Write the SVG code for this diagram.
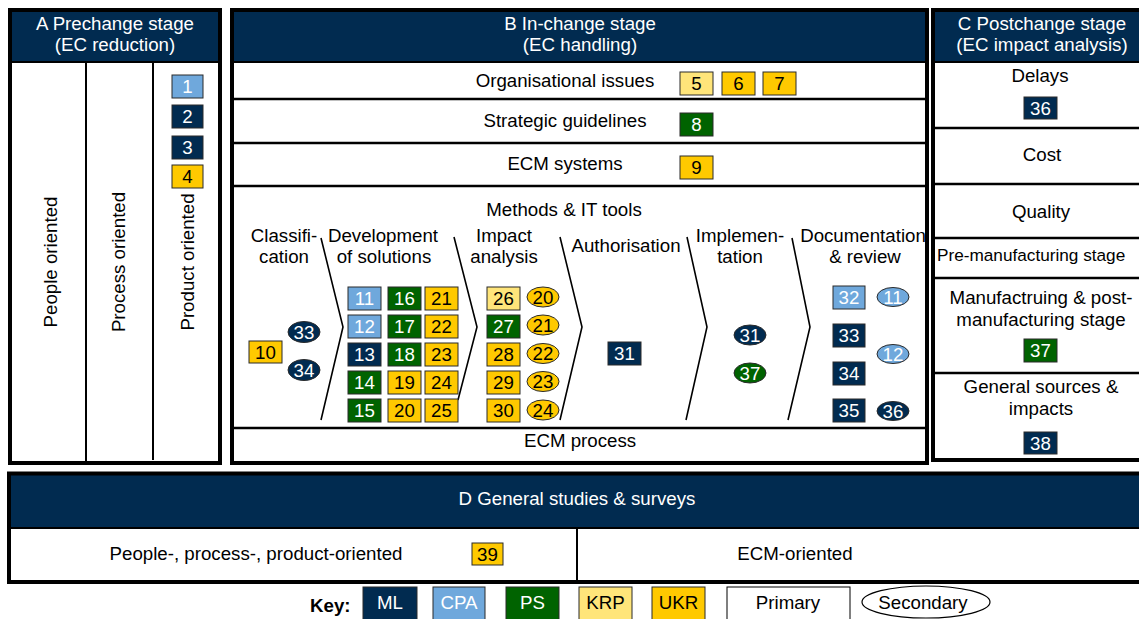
<svg xmlns="http://www.w3.org/2000/svg" width="1139" height="619" viewBox="0 0 1139 619">
<style>
text{font-family:"Liberation Sans",Arial,sans-serif;font-size:18.7px;fill:#000;text-anchor:middle}
.hd{fill:#fff}
.w{fill:#fff}
.frame{fill:none;stroke:#000;stroke-width:4}
.navy{fill:#012b50}
.ln{stroke:#000;stroke-width:2.6;fill:none}
.thin{stroke:#000;stroke-width:2;fill:none}
.chev{stroke:#000;stroke-width:1.6;fill:none;stroke-linejoin:miter}
.b{stroke:#2a2a2a;stroke-width:1}
.ml{fill:#012b50}
.cpa{fill:#6fa8dc}
.ps{fill:#006300}
.krp{fill:#ffe57a}
.ukr{fill:#ffc900}
</style>
<rect width="1139" height="619" fill="#fff"/>

<!-- Panel A -->
<g id="panelA">
<rect class="navy" x="10" y="10" width="210" height="52"/>
<rect class="frame" x="10" y="10" width="210" height="453"/>
<line class="thin" x1="10" y1="62" x2="220" y2="62"/>
<line class="thin" x1="86" y1="62" x2="86" y2="463"/>
<line class="thin" x1="153" y1="62" x2="153" y2="460"/>
<text class="hd" x="115" y="30">A Prechange stage</text>
<text class="hd" x="115" y="51">(EC reduction)</text>
<text transform="translate(56.5,262) rotate(-90)">People oriented</text>
<text transform="translate(124.5,262) rotate(-90)">Process oriented</text>
<text transform="translate(193.5,262) rotate(-90)">Product oriented</text>
</g>
<g id="n1"><rect class="b cpa" x="172" y="75" width="31" height="23"/><text class="w" x="187.5" y="93">1</text></g>
<g id="n2"><rect class="b ml" x="172" y="105" width="31" height="23"/><text class="w" x="187.5" y="123">2</text></g>
<g id="n3"><rect class="b ml" x="172" y="136" width="31" height="23"/><text class="w" x="187.5" y="154">3</text></g>
<g id="n4"><rect class="b ukr" x="172" y="165" width="31" height="23"/><text x="187.5" y="183">4</text></g>

<!-- Panel B -->
<g id="panelB">
<rect class="navy" x="232" y="10" width="695" height="52"/>
<rect class="frame" x="232" y="10" width="695" height="453"/>
<line class="thin" x1="232" y1="62" x2="927" y2="62"/>
<line class="ln" x1="234" y1="99" x2="925" y2="99"/>
<line class="ln" x1="234" y1="143" x2="925" y2="143"/>
<line class="ln" x1="234" y1="186" x2="925" y2="186"/>
<line class="ln" x1="234" y1="428" x2="925" y2="428"/>
<text class="hd" x="580" y="30">B In-change stage</text>
<text class="hd" x="580" y="51">(EC handling)</text>
<text x="565" y="87">Organisational issues</text>
<text x="565" y="127">Strategic guidelines</text>
<text x="565" y="170">ECM systems</text>
<text x="564" y="216">Methods &amp; IT tools</text>
<text x="580" y="447">ECM process</text>
<text x="284" y="242">Classifi-</text>
<text x="284" y="263">cation</text>
<text x="383" y="242">Development</text>
<text x="384" y="263">of solutions</text>
<text x="504" y="242">Impact</text>
<text x="504" y="263">analysis</text>
<text x="626" y="252">Authorisation</text>
<text x="740" y="242">Implemen-</text>
<text x="740" y="263">tation</text>
<text x="863" y="242">Documentation</text>
<text x="865" y="263">&amp; review</text>
</g>

<g id="connectors">
<polyline class="chev" points="321,238 343,327 321,420"/>
<polyline class="chev" points="454,237 477,327 458,400"/>
<polyline class="chev" points="560,237 582,327 560,420"/>
<polyline class="chev" points="687,237 707,327 686,420"/>
<polyline class="chev" points="792,238 810,327 788,420"/>
</g>

<g id="n5"><rect class="b krp" x="680" y="72" width="33" height="23"/><text x="696.5" y="90">5</text></g>
<g id="n6"><rect class="b ukr" x="722" y="72" width="33" height="23"/><text x="738.5" y="90">6</text></g>
<g id="n7"><rect class="b ukr" x="763" y="72" width="33" height="23"/><text x="779.5" y="90">7</text></g>
<g id="n8"><rect class="b ps" x="680" y="113" width="33" height="23"/><text class="w" x="696.5" y="131">8</text></g>
<g id="n9"><rect class="b ukr" x="680" y="156" width="33" height="23"/><text x="696.5" y="174">9</text></g>

<!-- Classification -->
<g id="n10"><rect class="b ukr" x="249" y="341" width="33" height="22"/><text x="265.5" y="358.5">10</text></g>
<g id="e33a"><ellipse class="b ml" cx="304" cy="332" rx="16" ry="10.5"/><text class="w" x="304" y="338.5">33</text></g>
<g id="e34a"><ellipse class="b ml" cx="304" cy="370" rx="16" ry="10.5"/><text class="w" x="304" y="376.5">34</text></g>

<!-- Development -->
<g id="n11"><rect class="b cpa" x="348" y="287" width="33" height="23"/><text class="w" x="364.5" y="305">11</text></g>
<g id="n12"><rect class="b cpa" x="348" y="315" width="33" height="23"/><text class="w" x="364.5" y="333">12</text></g>
<g id="n13"><rect class="b ml" x="348" y="343" width="33" height="23"/><text class="w" x="364.5" y="361">13</text></g>
<g id="n14"><rect class="b ps" x="348" y="371" width="33" height="23"/><text class="w" x="364.5" y="389">14</text></g>
<g id="n15"><rect class="b ps" x="348" y="399" width="33" height="23"/><text class="w" x="364.5" y="417">15</text></g>
<g id="n16"><rect class="b ps" x="388" y="287" width="33" height="23"/><text class="w" x="404.5" y="305">16</text></g>
<g id="n17"><rect class="b ps" x="388" y="315" width="33" height="23"/><text class="w" x="404.5" y="333">17</text></g>
<g id="n18"><rect class="b ps" x="388" y="343" width="33" height="23"/><text class="w" x="404.5" y="361">18</text></g>
<g id="n19"><rect class="b ukr" x="388" y="371" width="33" height="23"/><text x="404.5" y="389">19</text></g>
<g id="n20"><rect class="b ukr" x="388" y="399" width="33" height="23"/><text x="404.5" y="417">20</text></g>
<g id="n21"><rect class="b ukr" x="425" y="287" width="33" height="23"/><text x="441.5" y="305">21</text></g>
<g id="n22"><rect class="b ukr" x="425" y="315" width="33" height="23"/><text x="441.5" y="333">22</text></g>
<g id="n23"><rect class="b ukr" x="425" y="343" width="33" height="23"/><text x="441.5" y="361">23</text></g>
<g id="n24"><rect class="b ukr" x="425" y="371" width="33" height="23"/><text x="441.5" y="389">24</text></g>
<g id="n25"><rect class="b ukr" x="425" y="399" width="33" height="23"/><text x="441.5" y="417">25</text></g>

<!-- Impact analysis -->
<g id="n26"><rect class="b krp" x="487" y="287" width="33" height="23"/><text x="503.5" y="305">26</text></g>
<g id="n27"><rect class="b ps" x="487" y="315" width="33" height="23"/><text class="w" x="503.5" y="333">27</text></g>
<g id="n28"><rect class="b ukr" x="487" y="343" width="33" height="23"/><text x="503.5" y="361">28</text></g>
<g id="n29"><rect class="b ukr" x="487" y="371" width="33" height="23"/><text x="503.5" y="389">29</text></g>
<g id="n30"><rect class="b ukr" x="487" y="399" width="33" height="23"/><text x="503.5" y="417">30</text></g>
<g id="e20"><ellipse class="b ukr" cx="543" cy="297" rx="16" ry="10"/><text x="543" y="303.5">20</text></g>
<g id="e21"><ellipse class="b ukr" cx="543" cy="325" rx="16" ry="10"/><text x="543" y="331.5">21</text></g>
<g id="e22"><ellipse class="b ukr" cx="543" cy="353.5" rx="16" ry="10"/><text x="543" y="360">22</text></g>
<g id="e23"><ellipse class="b ukr" cx="543" cy="381.5" rx="16" ry="10"/><text x="543" y="388">23</text></g>
<g id="e24"><ellipse class="b ukr" cx="543" cy="410" rx="16" ry="10"/><text x="543" y="416.5">24</text></g>

<!-- Authorisation -->
<g id="n31"><rect class="b ml" x="608" y="342" width="33" height="23"/><text class="w" x="624.5" y="360">31</text></g>

<!-- Implementation -->
<g id="e31"><ellipse class="b ml" cx="750" cy="335" rx="16" ry="10"/><text class="w" x="750" y="341.5">31</text></g>
<g id="e37"><ellipse class="b ps" cx="750" cy="373" rx="16" ry="10"/><text class="w" x="750" y="379.5">37</text></g>

<!-- Documentation & review -->
<g id="n32"><rect class="b cpa" x="833" y="286" width="32" height="23"/><text class="w" x="849" y="304">32</text></g>
<g id="n33"><rect class="b ml" x="833" y="324" width="32" height="23"/><text class="w" x="849" y="342">33</text></g>
<g id="n34"><rect class="b ml" x="833" y="362" width="32" height="23"/><text class="w" x="849" y="380">34</text></g>
<g id="n35"><rect class="b ml" x="833" y="399" width="32" height="23"/><text class="w" x="849" y="417">35</text></g>
<g id="e11"><ellipse class="b cpa" cx="893" cy="297" rx="16" ry="9.5"/><text class="w" x="893" y="303.5">11</text></g>
<g id="e12"><ellipse class="b cpa" cx="893" cy="354" rx="16" ry="9.5"/><text class="w" x="893" y="360.5">12</text></g>
<g id="e36"><ellipse class="b ml" cx="893" cy="411" rx="16" ry="9.5"/><text class="w" x="893" y="417.5">36</text></g>

<!-- Panel C -->
<g id="panelC">
<rect class="navy" x="933" y="10" width="230" height="52"/>
<rect class="frame" x="933" y="10" width="230" height="450"/>
<line class="thin" x1="933" y1="62" x2="1139" y2="62"/>
<line class="ln" x1="935" y1="128" x2="1139" y2="128"/>
<line class="ln" x1="935" y1="184" x2="1139" y2="184"/>
<line class="ln" x1="935" y1="238" x2="1139" y2="238"/>
<line class="ln" x1="935" y1="278" x2="1139" y2="278"/>
<line class="ln" x1="935" y1="373" x2="1139" y2="373"/>
<text class="hd" x="1042" y="30">C Postchange stage</text>
<text class="hd" x="1042" y="51">(EC impact analysis)</text>
<text x="1040" y="82">Delays</text>
<text x="1042" y="161">Cost</text>
<text x="1041" y="218">Quality</text>
<text x="937" y="261" style="text-anchor:start;font-size:17.2px">Pre-manufacturing stage</text>
<text x="1041" y="304">Manufactruing &amp; post-</text>
<text x="1041" y="326">manufacturing stage</text>
<text x="1041" y="393">General sources &amp;</text>
<text x="1041" y="415">impacts</text>
</g>
<g id="n36"><rect class="b ml" x="1024" y="97" width="33" height="22"/><text class="w" x="1040.5" y="114.5">36</text></g>
<g id="n37"><rect class="b ps" x="1024" y="339" width="33" height="23"/><text class="w" x="1040.5" y="357">37</text></g>
<g id="n38"><rect class="b ml" x="1024" y="432" width="33" height="22"/><text class="w" x="1040.5" y="449.5">38</text></g>

<!-- Panel D -->
<g id="panelD">
<rect class="navy" x="9" y="474" width="1150" height="54"/>
<rect class="frame" x="9" y="473.5" width="1150" height="108.5"/>
<line class="thin" x1="9" y1="528" x2="1139" y2="528"/>
<line class="thin" x1="577" y1="528" x2="577" y2="582"/>
<text class="hd" x="577" y="505">D General studies &amp; surveys</text>
<text x="256" y="560">People-, process-, product-oriented</text>
<text x="795" y="560">ECM-oriented</text>
</g>
<g id="n39"><rect class="b ukr" x="472" y="543" width="31" height="22"/><text x="487.5" y="560.5">39</text></g>

<!-- Key -->
<g id="key">
<text x="310" y="612" style="text-anchor:start;font-weight:bold">Key:</text>
<g id="keyML"><rect class="b ml" x="363" y="587" width="54" height="40"/><text class="w" x="390" y="609">ML</text></g>
<g id="keyCPA"><rect class="b cpa" x="433" y="587" width="52" height="40"/><text class="w" x="459" y="609">CPA</text></g>
<g id="keyPS"><rect class="b ps" x="506" y="587" width="53" height="40"/><text class="w" x="532.5" y="609">PS</text></g>
<g id="keyKRP"><rect class="b krp" x="579" y="587" width="53" height="40"/><text x="605.5" y="609">KRP</text></g>
<g id="keyUKR"><rect class="b ukr" x="652" y="587" width="53" height="40"/><text x="678.5" y="609">UKR</text></g>
<g id="keyPrimary"><rect x="727" y="587" width="123" height="40" fill="#fff" stroke="#000" stroke-width="1"/><text x="788" y="609">Primary</text></g>
<g id="keySecondary"><ellipse cx="926" cy="602" rx="64" ry="16" fill="#fff" stroke="#000" stroke-width="1.2"/><text x="923" y="609">Secondary</text></g>
</g>
</svg>
